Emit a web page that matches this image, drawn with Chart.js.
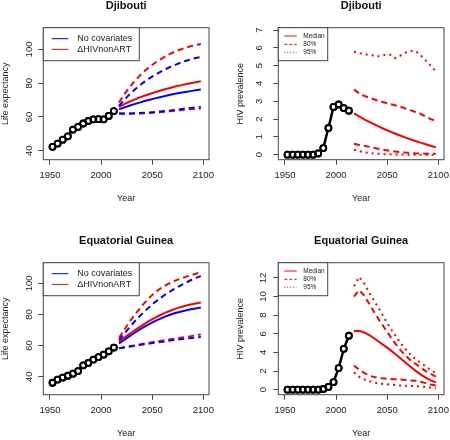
<!DOCTYPE html>
<html lang="en">
<head>
  <meta charset="UTF-8">
  <title>Life expectancy and HIV prevalence</title>
  <script src="https://cdn.jsdelivr.net/npm/chart.js"></script>
  <style>
    body { margin: 0; background: #fff; }
    #wrap { position: relative; width: 450px; height: 440px; overflow: hidden; }
    .panel { position: absolute; width: 225px; height: 220px; }
  </style>
</head>
<body>
<div id="wrap">
  <div class="panel" style="left:0; top:-14.7px"><canvas id="djLe" width="225" height="220"></canvas></div>
  <div class="panel" style="left:235px; top:-14.7px"><canvas id="djHiv" width="225" height="220"></canvas></div>
  <div class="panel" style="left:0; top:220px"><canvas id="egLe" width="225" height="220"></canvas></div>
  <div class="panel" style="left:235px; top:220px"><canvas id="egHiv" width="225" height="220"></canvas></div>
</div>
<script>
  // years (5-year period midpoints)
  const histYears = [1952.5, 1957.5, 1962.5, 1967.5, 1972.5, 1977.5, 1982.5, 1987.5, 1992.5, 1997.5, 2002.5, 2007.5, 2012.5];
  const projYears = [2017.5, 2022.5, 2027.5, 2032.5, 2037.5, 2042.5, 2047.5, 2052.5, 2057.5, 2062.5, 2067.5, 2072.5, 2077.5, 2082.5, 2087.5, 2092.5, 2097.5];
  const yearTicks = [1950, 2000, 2050, 2100];

  const leTicks = [40, 60, 80, 100];
  const djHivTicks = [0, 1, 2, 3, 4, 5, 6, 7];
  const egHivTicks = [0, 2, 4, 6, 8, 10, 12];

  const leLegendLabels = ['No covariates', '\u0394HIVnonART'];
  const hivLegendLabels = ['Median', '80%', '95%'];

  // Djibouti - life expectancy
  const djLeHist = [42.3, 44.2, 46.5, 48.5, 52.5, 54.1, 56.1, 57.6, 58.6, 58.7, 58.6, 60.6, 63.5];
  const djLeBlueMed = [64.5, 65.6, 66.6, 67.6, 68.5, 69.4, 70.2, 71.0, 71.7, 72.4, 73.1, 73.7, 74.3, 74.8, 75.3, 75.8, 76.2];
  const djLeBlueHi = [66.5, 70.0, 73.2, 76.0, 78.6, 80.9, 83.0, 84.9, 86.6, 88.2, 89.6, 90.9, 92.1, 93.2, 94.1, 94.9, 95.5];
  const djLeBlueLo = [62.0, 62.0, 62.1, 62.2, 62.3, 62.5, 62.7, 62.9, 63.2, 63.5, 63.8, 64.2, 64.6, 65.0, 65.3, 65.6, 65.9];
  const djLeRedMed = [66.0, 67.6, 69.0, 70.3, 71.5, 72.6, 73.6, 74.6, 75.5, 76.4, 77.2, 78.0, 78.7, 79.4, 80.0, 80.6, 81.2];
  const djLeRedHi = [68.5, 73.2, 77.3, 81.0, 84.3, 87.2, 89.8, 92.0, 94.0, 95.8, 97.4, 98.8, 100.0, 101.0, 101.9, 102.6, 103.2];
  const djLeRedLo = [62.0, 61.9, 61.9, 62.0, 62.1, 62.2, 62.4, 62.6, 62.8, 63.1, 63.4, 63.7, 64.0, 64.3, 64.6, 64.8, 65.0];

  // Djibouti - HIV prevalence
  const djHivHist = [0, 0, 0, 0, 0, 0, 0.07, 0.37, 1.5, 2.68, 2.82, 2.62, 2.47];
  const djHivMed = [2.32, 2.15, 1.99, 1.84, 1.70, 1.56, 1.43, 1.31, 1.19, 1.08, 0.97, 0.87, 0.77, 0.68, 0.59, 0.50, 0.41];
  const djHiv80Hi = [3.65, 3.45, 3.3, 3.2, 3.1, 3.0, 2.93, 2.85, 2.78, 2.7, 2.6, 2.5, 2.4, 2.3, 2.15, 2.0, 1.9];
  const djHiv80Lo = [0.62, 0.55, 0.5, 0.44, 0.38, 0.32, 0.27, 0.22, 0.18, 0.15, 0.12, 0.1, 0.08, 0.07, 0.06, 0.05, 0.05];
  const djHiv95Hi = [5.78, 5.7, 5.65, 5.6, 5.57, 5.52, 5.6, 5.62, 5.42, 5.55, 5.72, 5.82, 5.82, 5.6, 5.3, 5.0, 4.68];
  const djHiv95Lo = [0.28, 0.2, 0.14, 0.1, 0.07, 0.05, 0.03, 0.02, 0.01, 0.01, 0, 0, 0, 0, 0, 0, 0];

  // Equatorial Guinea - life expectancy
  const egLeHist = [36.1, 38.1, 39.4, 40.6, 41.9, 43.6, 47.3, 48.8, 51.0, 52.6, 54.2, 56.3, 58.7];
  const egLeBlueMed = [61.3, 63.6, 65.9, 68.1, 70.2, 72.2, 74.0, 75.7, 77.2, 78.6, 79.8, 80.9, 81.8, 82.6, 83.3, 83.9, 84.5];
  const egLeBlueHi = [63.5, 67.5, 71.5, 75.3, 78.8, 82.0, 85.0, 87.8, 90.3, 92.7, 94.8, 96.8, 98.6, 100.3, 102.0, 103.5, 104.7];
  const egLeBlueLo = [58.3, 58.8, 59.3, 59.8, 60.3, 60.8, 61.3, 61.8, 62.3, 62.7, 63.2, 63.6, 64.0, 64.4, 64.8, 65.2, 65.5];
  const egLeRedMed = [62.5, 65.0, 67.4, 69.7, 71.9, 74.0, 76.0, 77.8, 79.5, 81.0, 82.4, 83.6, 84.7, 85.6, 86.4, 87.1, 87.7];
  const egLeRedHi = [65.0, 70.0, 75.0, 79.5, 83.5, 87.5, 91.0, 94.0, 96.5, 98.5, 100.3, 101.8, 103.0, 104.2, 105.2, 106.2, 107.0];
  const egLeRedLo = [58.3, 58.9, 59.5, 60.1, 60.7, 61.3, 61.9, 62.5, 63.0, 63.5, 64.0, 64.5, 65.0, 65.5, 66.0, 66.6, 67.2];

  // Equatorial Guinea - HIV prevalence
  const egHivHist = [0, 0, 0, 0, 0, 0, 0, 0.07, 0.29, 0.82, 2.32, 4.39, 5.79];
  const egHivMed = [6.3, 6.32, 6.15, 5.85, 5.5, 5.1, 4.7, 4.3, 3.85, 3.4, 2.95, 2.5, 2.05, 1.65, 1.3, 1.0, 0.78];
  const egHiv80Hi = [10.0, 10.7, 10.1, 9.2, 8.3, 7.4, 6.6, 5.8, 5.0, 4.3, 3.7, 3.2, 2.8, 2.4, 2.0, 1.7, 1.4];
  const egHiv80Lo = [2.6, 2.15, 1.8, 1.5, 1.35, 1.25, 1.2, 1.15, 1.12, 1.1, 1.05, 1.0, 0.95, 0.85, 0.7, 0.55, 0.45];
  const egHiv95Hi = [11.1, 12.1, 11.4, 10.4, 9.5, 8.6, 7.6, 6.7, 5.9, 5.1, 4.4, 3.8, 3.3, 2.9, 2.5, 2.1, 1.8];
  const egHiv95Lo = [1.86, 1.4, 1.1, 0.9, 0.75, 0.65, 0.6, 0.55, 0.5, 0.45, 0.42, 0.4, 0.37, 0.33, 0.28, 0.22, 0.15];

  const BLUE = '#0000ff';
  const RED = '#ff0000';
  const DASHED = [6, 4];
  const DOTTED = [2, 4];

  Chart.defaults.font.family = '"Liberation Sans", Arial, Helvetica, sans-serif';

  const pts = (xs, ys) => xs.map((x, i) => ({ x: x, y: ys[i] }));

  function proj(label, values, color, dash) {
    return { label: label, data: pts(projYears, values), borderColor: color, borderWidth: 2,
             borderDash: dash, borderCapStyle: 'butt', pointRadius: 0, fill: false, tension: 0 };
  }

  // R style type="b": line under white circles, then hollow circles on top
  function observed(values) {
    return [
      { label: 'observed', data: pts(histYears, values), showLine: false, pointRadius: 3,
        pointBorderWidth: 1.8, pointBorderColor: '#000', pointBackgroundColor: 'rgba(0,0,0,0)' },
      { label: 'observed line', data: pts(histYears, values), borderColor: '#000', borderWidth: 2.5,
        pointRadius: 3, pointBorderWidth: 1.8, pointBorderColor: '#000', pointBackgroundColor: '#fff' }
    ];
  }

  // frame around the plot region
  const plotBox = {
    id: 'plotBox',
    afterDatasetsDraw(chart) {
      const a = chart.chartArea;
      const ctx = chart.ctx;
      ctx.save();
      ctx.strokeStyle = '#444';
      ctx.lineWidth = 1;
      ctx.strokeRect(a.left, a.top, a.right - a.left, a.bottom - a.top);
      ctx.restore();
    }
  };

  // legend box in the top-left corner of the plot
  const boxLegend = {
    id: 'boxLegend',
    afterDraw(chart, args, o) {
      if (!o.labels) return;
      const a = chart.chartArea;
      const ctx = chart.ctx;
      ctx.save();
      ctx.fillStyle = '#fff';
      ctx.fillRect(a.left, a.top, o.width, o.height);
      ctx.strokeStyle = '#444';
      ctx.lineWidth = 1;
      ctx.strokeRect(a.left, a.top, o.width, o.height);
      ctx.font = o.fontSize + 'px "Liberation Sans", Arial, sans-serif';
      ctx.textBaseline = 'middle';
      o.labels.forEach((label, i) => {
        const y = a.top + o.rows[i];
        ctx.beginPath();
        ctx.setLineDash(o.dashes[i]);
        ctx.strokeStyle = o.colors[i];
        ctx.lineWidth = 1;
        ctx.moveTo(a.left + o.lineFrom, y);
        ctx.lineTo(a.left + o.lineTo, y);
        ctx.stroke();
        ctx.setLineDash([]);
        ctx.fillStyle = '#222';
        ctx.fillText(label, a.left + o.textX, y);
      });
      ctx.restore();
    }
  };

  const leLegend = { labels: leLegendLabels, colors: [BLUE, RED], dashes: [[], []],
                     width: 96, height: 33, rows: [11, 21.7], lineFrom: 8.4, lineTo: 25, textX: 34, fontSize: 9 };
  const hivLegend = { labels: hivLegendLabels, colors: [RED, RED, RED], dashes: [[], [3, 2], [1, 2]],
                      width: 49.4, height: 33, rows: [8.3, 16.6, 24.6], lineFrom: 6, lineTo: 18.4, textX: 25, fontSize: 6.5 };

  function drawPanel(id, p) {
    new Chart(document.getElementById(id), {
      type: 'line',
      data: { datasets: p.datasets },
      options: {
        responsive: false,
        animation: false,
        events: [],
        layout: { padding: { left: 0, right: 16, top: 0, bottom: 0 } },
        plugins: {
          legend: { display: false },
          tooltip: { enabled: false },
          title: {
            display: true, text: p.title, fullSize: false, color: '#111',
            font: { size: 11, weight: 'bold' }, padding: { top: 14.2, bottom: 15.3 }
          },
          boxLegend: p.legend
        },
        scales: {
          x: {
            type: 'linear', min: 1943.5, max: 2105.5,
            afterBuildTicks: s => { s.ticks = yearTicks.map(v => ({ value: v })); },
            afterFit: s => { s.height = 45.3; },
            border: { display: false },
            grid: { drawOnChartArea: false, tickLength: 5, color: '#444' },
            ticks: { color: '#222', font: { size: 9.5 }, padding: 5, maxRotation: 0, autoSkip: false,
                     callback: v => String(v) },
            title: { display: true, text: 'Year', color: '#222', font: { size: 9 }, padding: { top: 0, bottom: 0.6 } }
          },
          y: {
            type: 'linear', min: p.yMin, max: p.yMax,
            afterBuildTicks: s => { s.ticks = p.yTicks.map(v => ({ value: v })); },
            afterFit: s => { s.width = 43.3; },
            border: { display: false },
            grid: { drawOnChartArea: false, tickLength: 5, color: '#444' },
            ticks: { color: '#222', font: { size: 9.5 }, minRotation: 90, maxRotation: 90, crossAlign: 'center',
                     padding: p.tickPad, autoSkip: false, callback: v => String(v) },
            title: { display: true, text: p.yTitle, color: '#222', font: { size: 9 }, padding: { top: p.titlePad, bottom: 0 } }
          }
        }
      },
      plugins: [plotBox, boxLegend]
    });
  }

  drawPanel('djLe', {
    title: 'Djibouti', yTitle: 'Life expectancy', yMin: 34.65, yMax: 112.9, yTicks: leTicks, tickPad: 0.6, titlePad: 0.6,
    legend: leLegend,
    datasets: observed(djLeHist).concat([
      proj('No covariates', djLeBlueMed, BLUE, []),
      proj('No covariates upper', djLeBlueHi, BLUE, DASHED),
      proj('No covariates lower', djLeBlueLo, BLUE, DASHED),
      proj('HIVnonART', djLeRedMed, RED, []),
      proj('HIVnonART upper', djLeRedHi, RED, DASHED),
      proj('HIVnonART lower', djLeRedLo, RED, DASHED)
    ])
  });

  drawPanel('djHiv', {
    title: 'Djibouti', yTitle: 'HIV prevalence', yMin: -0.28, yMax: 7.13, yTicks: djHivTicks, tickPad: 11.6, titlePad: 0,
    legend: hivLegend,
    datasets: observed(djHivHist).concat([
      proj('Median', djHivMed, RED, []),
      proj('80% upper', djHiv80Hi, RED, DASHED),
      proj('80% lower', djHiv80Lo, RED, DASHED),
      proj('95% upper', djHiv95Hi, RED, DOTTED),
      proj('95% lower', djHiv95Lo, RED, DOTTED)
    ])
  });

  drawPanel('egLe', {
    title: 'Equatorial Guinea', yTitle: 'Life expectancy', yMin: 28.4, yMax: 113.3, yTicks: leTicks, tickPad: 0.6, titlePad: 0.6,
    legend: leLegend,
    datasets: observed(egLeHist).concat([
      proj('No covariates', egLeBlueMed, BLUE, []),
      proj('No covariates upper', egLeBlueHi, BLUE, DASHED),
      proj('No covariates lower', egLeBlueLo, BLUE, DASHED),
      proj('HIVnonART', egLeRedMed, RED, []),
      proj('HIVnonART upper', egLeRedHi, RED, DASHED),
      proj('HIVnonART lower', egLeRedLo, RED, DASHED)
    ])
  });

  drawPanel('egHiv', {
    title: 'Equatorial Guinea', yTitle: 'HIV prevalence', yMin: -0.54, yMax: 13.64, yTicks: egHivTicks, tickPad: 4.7, titlePad: 0,
    legend: hivLegend,
    datasets: observed(egHivHist).concat([
      proj('Median', egHivMed, RED, []),
      proj('80% upper', egHiv80Hi, RED, DASHED),
      proj('80% lower', egHiv80Lo, RED, DASHED),
      proj('95% upper', egHiv95Hi, RED, DOTTED),
      proj('95% lower', egHiv95Lo, RED, DOTTED)
    ])
  });
</script>
</body>
</html>
